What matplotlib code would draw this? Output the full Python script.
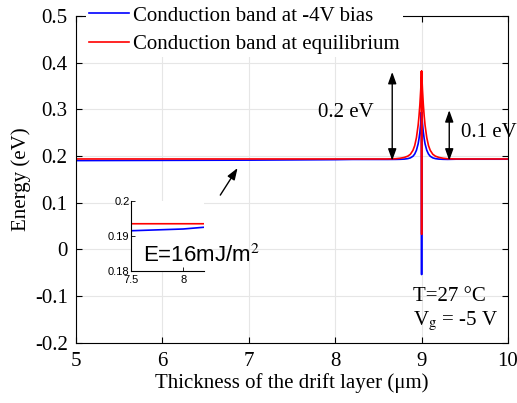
import matplotlib
matplotlib.use('Agg')
import matplotlib.pyplot as plt

# 曲線データ
# 左側の平坦部 (x, 赤, 青)
flat_left_x = [5.0, 6.0, 7.0, 7.5, 8.0, 8.2, 8.6]
red_flat_left = [0.1935, 0.1935, 0.1935, 0.1935, 0.1935, 0.1935, 0.1935]
blue_flat_left = [0.1900, 0.1905, 0.1910, 0.1915, 0.1920, 0.1925, 0.1925]

# ピーク付近 x=9 からの距離
peak_dx = [0.30, 0.25, 0.20, 0.16, 0.13, 0.10, 0.08, 0.06, 0.04, 0.03, 0.02, 0.01]
red_side = [0.1940, 0.1950, 0.1968, 0.1995, 0.2035, 0.2120, 0.2220, 0.2390, 0.2660, 0.2855, 0.3100, 0.3420]
blue_side = [0.1926, 0.1928, 0.1932, 0.1942, 0.1958, 0.1993, 0.2040, 0.2120, 0.2260, 0.2370, 0.2510, 0.2700]

peak_x = 9.0
red_peak, red_min = 0.382, 0.032
blue_peak, blue_min = 0.294, -0.054

# 右側の平坦部
flat_right_x = [9.4, 10.0]
red_flat_right = [0.1935, 0.1935]
blue_flat_right = [0.1930, 0.1930]

xticks = [5, 6, 7, 8, 9, 10]
yticks = [-0.2, -0.1, 0, 0.1, 0.2, 0.3, 0.4, 0.5]
ytick_labels = ['-0.2', '-0.1', '0', '0.1', '0.2', '0.3', '0.4', '0.5']

inset_xticks = [7.5, 8]
inset_xtick_labels = ['7.5', '8']
inset_yticks = [0.18, 0.19, 0.2]
inset_ytick_labels = ['0.18', '0.19', '0.2']


def build_curve(flat_l, left_vals, peak, vmin, flat_r_x, flat_r):
    xs = list(flat_left_x) + [peak_x - d for d in peak_dx] + [peak_x, peak_x, peak_x] \
        + [peak_x + d for d in reversed(peak_dx)] + list(flat_r_x)
    ys = list(flat_l) + list(left_vals) + [peak, vmin, peak] + list(reversed(left_vals)) + list(flat_r)
    return xs, ys


plt.rcParams['font.family'] = ['Liberation Serif', 'DejaVu Serif']
plt.rcParams['mathtext.fontset'] = 'stix'

fig = plt.figure(figsize=(5.17, 4.03), dpi=100)
ax = fig.add_axes([76 / 517, 1 - 342.5 / 403, 432 / 517, 326.5 / 403])

bx, by = build_curve(blue_flat_left, blue_side, blue_peak, blue_min, flat_right_x, blue_flat_right)
rx, ry = build_curve(red_flat_left, red_side, red_peak, red_min, flat_right_x, red_flat_right)
ax.plot(bx, by, color='#0000ff', lw=1.2, label='Conduction band at -4V bias')
ax.plot(rx, ry, color='#ff0000', lw=1.2, label='Conduction band at equilibrium')

ax.set_xlim(5, 10)
ax.set_ylim(-0.2, 0.5)
ax.set_xticks(xticks)
ax.set_yticks(yticks)
ax.set_yticklabels(ytick_labels)
ax.tick_params(direction='in', top=True, right=True, labelsize=15, length=4, width=0.8)
ax.tick_params(axis='x', pad=7)
ax.tick_params(axis='y', pad=6)
ax.grid(True, color='#e6e6e6', lw=0.8)
ax.set_axisbelow(True)
for s in ax.spines.values():
    s.set_linewidth(0.8)
ax.set_xlabel('Thickness of the drift layer (μm)', fontsize=15, labelpad=1)
ax.set_ylabel('Energy (eV)', fontsize=15, labelpad=3)

leg = ax.legend(loc='upper left', bbox_to_anchor=(86 / 517, 1 - 3 / 403),
                bbox_transform=fig.transFigure, fontsize=15, frameon=True,
                facecolor='white', edgecolor='none', framealpha=1, fancybox=False,
                borderpad=0.15, borderaxespad=0, handlelength=1.9, handletextpad=0.2,
                labelspacing=0.42)
leg.set_zorder(5)

# 矢印と注釈
arr = dict(arrowstyle='<|-|>,head_length=0.7,head_width=0.25', color='k', lw=1.0,
           shrinkA=0, shrinkB=0)
ax.annotate('', xy=(8.66, 0.380), xytext=(8.66, 0.190), arrowprops=arr)
ax.annotate('', xy=(9.32, 0.298), xytext=(9.32, 0.190), arrowprops=arr)
ax.text(7.80, 0.294, '0.2 eV', fontsize=15, va='center', ha='left')
ax.text(9.46, 0.251, '0.1 eV', fontsize=15, va='center', ha='left', clip_on=False)
ax.annotate('', xy=(6.87, 0.174), xytext=(6.67, 0.116),
            arrowprops=dict(arrowstyle='-|>,head_length=0.7,head_width=0.25', color='k', lw=1.0,
                            shrinkA=0, shrinkB=0))
ax.text(8.90, -0.101, 'T=27 °C', fontsize=15, va='center', ha='left')
ax.text(8.90, -0.155, r'V$_{\rm g}$ = -5 V', fontsize=15, va='center', ha='left')

# 挿入図
ins = fig.add_axes([131 / 517, 1 - 271 / 403, 73 / 517, 70 / 403])
ins.plot(bx, by, color='#0000ff', lw=1.2)
ins.plot(rx, ry, color='#ff0000', lw=1.2)
ins.set_xlim(7.5, 8.2)
ins.set_ylim(0.18, 0.2)
ins.set_xticks(inset_xticks)
ins.set_xticklabels(inset_xtick_labels, family='Liberation Sans')
ins.set_yticks(inset_yticks)
ins.set_yticklabels(inset_ytick_labels, family='Liberation Sans')
ins.tick_params(direction='in', labelsize=8, length=3, width=0.6, pad=1)
ins.tick_params(axis='x', pad=3)
ins.spines['top'].set_visible(False)
ins.spines['right'].set_visible(False)
for s in ['left', 'bottom']:
    ins.spines[s].set_linewidth(0.8)
ins.text(0.16, 0.13, 'E=16mJ/m$^2$', transform=ins.transAxes, fontsize=16,
         family='Liberation Sans', va='baseline', ha='left', clip_on=False)

fig.savefig('out.png', dpi=100)
